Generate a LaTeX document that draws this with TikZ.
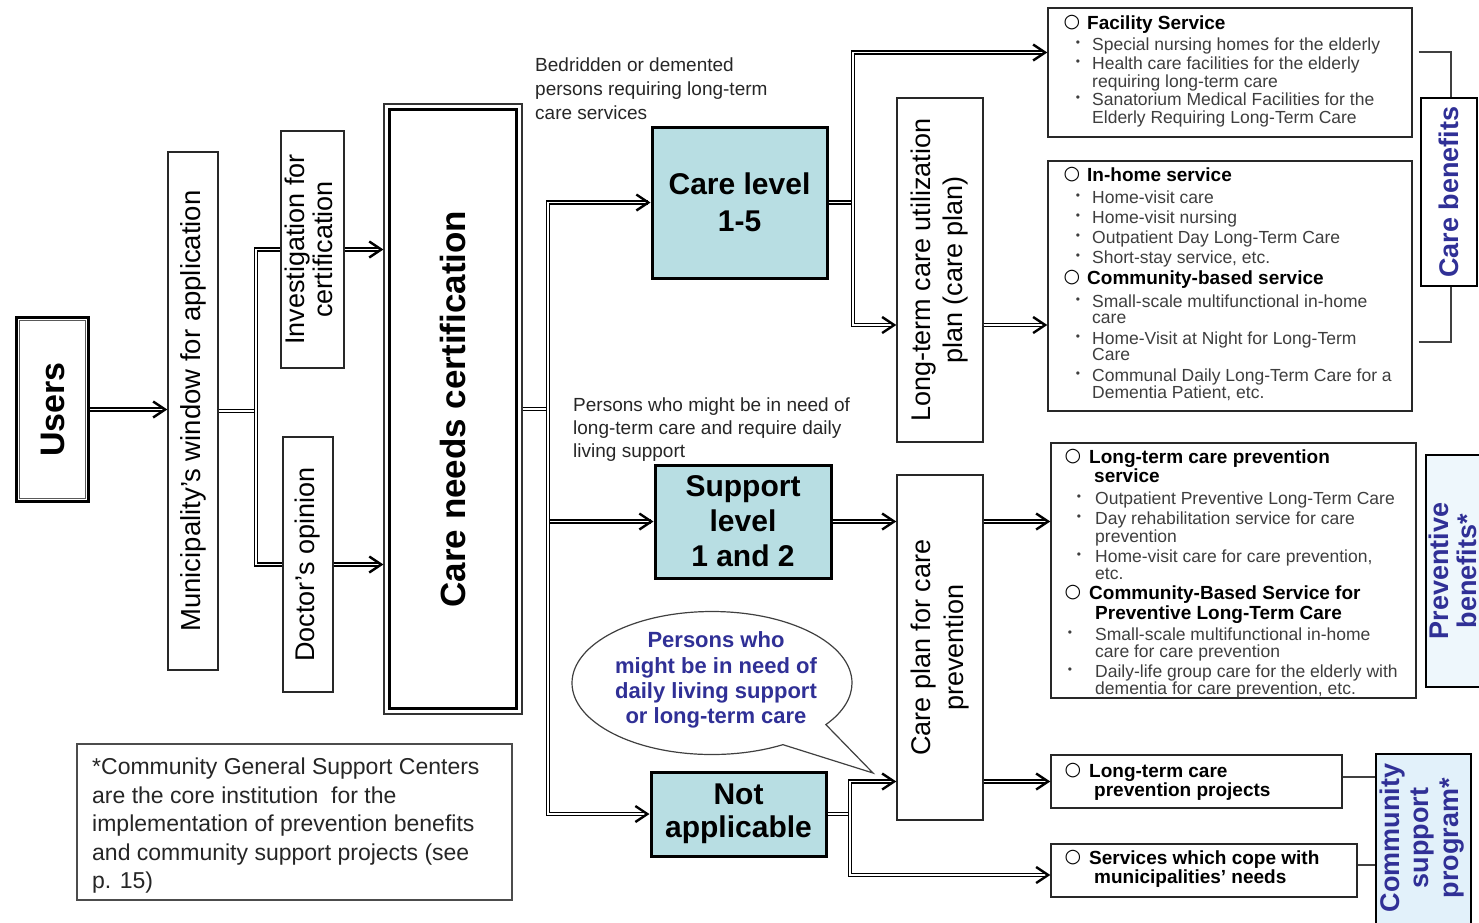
\documentclass[tikz,border=0pt]{standalone}
\usepackage{fontspec}
\usepackage{graphicx}
\setmainfont{Liberation Sans}
\newfontfamily\symf{DejaVu Sans}
\usetikzlibrary{arrows.meta,shapes.callouts}
\definecolor{tealf}{RGB}{184,222,227}
\definecolor{bluet}{RGB}{48,48,150}
\definecolor{itemc}{RGB}{62,62,62}
\definecolor{pbfill}{RGB}{238,247,252}
\definecolor{cspfill}{RGB}{226,241,250}
\definecolor{linec}{RGB}{40,40,40}
\newcommand\fs[2]{\fontsize{#1}{#2}\selectfont}
\newcommand\rtab[2]{\rotatebox{90}{#1\begin{tabular}{@{}c@{}}#2\end{tabular}}}
\newcounter{tln}
\newcommand\tl[5]{\stepcounter{tln}\node[anchor=base west, inner sep=0pt, #1] (t\arabic{tln}) at (#2,{#3+0.36*#4}) {\fs{#4}{#4}#5};}
\newcommand\hd[4]{\stepcounter{tln}\node[inner sep=0pt] (t\arabic{tln}) at (#1,#3) {\symf\fs{19}{19}○};\tl{font=\bfseries}{#2}{#3}{19}{#4}}
\newcommand\itm[4]{\stepcounter{tln}\node[inner sep=0pt, text=itemc] (t\arabic{tln}) at (#1,#3) {\fs{12}{12}•};\tl{text=itemc}{#2}{#3}{17.5}{#4}}
\newcommand\cnt[3]{\tl{text=itemc}{#1}{#2}{17.5}{#3}}
\newcommand\hcnt[3]{\tl{font=\bfseries}{#1}{#2}{19}{#3}}
\begin{document}
\begin{tikzpicture}[x=1pt,y=-1pt,
  box/.style={draw=linec, line width=1.4pt, inner sep=0pt, fill=white, align=center},
  lvl/.style={draw=black, line width=3pt, fill=tealf, inner sep=0pt, align=center},
  dl/.style={draw=black, double=white, line width=1.1pt, double distance=1.9pt},
  tipst/.style={-{Straight Barb[length=12pt, width=16pt, line width=2.4pt, color=black]}},
  da/.style={dl, shorten >=3pt, postaction={draw=white, line width=1.2pt, tipst, shorten >=0pt}},
  thinl/.style={draw=black!75, line width=1.3pt},
]
\useasboundingbox (0,0) rectangle (1479,922);

% ---------- left column ----------
\node[box, draw=black, line width=3.4pt, minimum width=72, minimum height=184] (users) at (52.5,409.5) {\rotatebox{90}{\fs{34}{34}\bfseries Users}};
\draw[line width=1.1pt, black!65] ([shift={(5pt,-5pt)}]users.north west) rectangle ([shift={(-5pt,5pt)}]users.south east);

\node[box, minimum width=50, minimum height=518] (muni) at (193,411) {\rotatebox{90}{\fs{27.5}{27.5}Municipality's window for application}};
\node[box, minimum width=63, minimum height=237] (inv) at (312.5,249.5) {\rtab{\fs{27}{27}}{Investigation for\\certification}};
\node[box, minimum width=50, minimum height=255] (doc) at (308,564.5) {\rotatebox{90}{\fs{27}{27}Doctor's opinion}};

\node[box, draw=black!80, line width=1.2pt, minimum width=138, minimum height=610] (cn) at (453,409) {\rotatebox{90}{\fs{35}{35}\bfseries Care needs certification}};
\draw[line width=3.2pt] ([shift={(6pt,-6pt)}]cn.north west) rectangle ([shift={(-6pt,6pt)}]cn.south east);

% ---------- levels ----------
\node[lvl, minimum width=175, minimum height=151, font=\fs{30}{37}\bfseries] (cl) at (739.5,202.5) {Care level\\1-5};
\node[lvl, minimum width=176, minimum height=113, font=\fs{30}{35}\bfseries] (sl) at (743,521.5) {Support\\level\\1 and 2};
\node[lvl, minimum width=175, minimum height=84, font=\fs{30}{33}\bfseries] (na) at (738.5,814) {Not\\applicable};

% ---------- plans ----------
\node[box, minimum width=86, minimum height=344] (ltc) at (940,270) {\rtab{\fs{27}{32}}{Long-term care utilization\\plan (care plan)}};
\node[box, minimum width=86, minimum height=345] (cpp) at (940,647.5) {\rtab{\fs{27}{33}}{Care plan for care\\prevention}};

% ---------- service boxes ----------
\node[box, minimum width=364, minimum height=129] (fac) at (1230,72.5) {};
\node[box, minimum width=364, minimum height=250] (inh) at (1230,286) {};
\node[box, minimum width=365, minimum height=255] (ltcp) at (1233.5,570.5) {};
\node[box, minimum width=291, minimum height=53] (proj) at (1196.5,781.5) {};
\node[box, minimum width=306, minimum height=53] (svc) at (1204,870.5) {};

% ---------- benefit labels ----------
\draw[thinl] ([xshift=6pt]fac.east |- 0,52) -| (1451,192);
\draw[thinl] ([xshift=6pt]inh.east |- 0,342) -| (1451,192);
\node[box, draw=black, line width=2.6pt, minimum width=56, minimum height=188] (cb) at (1449,192) {\rotatebox{90}{\fs{27}{27}\bfseries\color{bluet}Care benefits}};
\node[box, fill=pbfill, draw=black, line width=1.6pt, minimum width=80, minimum height=232] (pb) at (1466,571) {};
\node[inner sep=0pt] (pbt) at (1457,571) {\rtab{\fs{27}{27}\bfseries\color{bluet}}{Preventive\\benefits*}};
\node[box, fill=cspfill, draw=black, line width=1.6pt, minimum width=95, minimum height=186] (csp) at (1423.5,847) {};
\node[inner sep=0pt] (cspt) at (1423,838) {\rtab{\fs{27}{29.5}\bfseries\color{bluet}}{Community\\support\\program*}};
\draw[thinl] (proj.east |- 0,777) -- (csp.west |- 0,777);
\draw[thinl] (svc.east |- 0,865) -- (csp.west |- 0,865);

% ---------- connectors ----------
\coordinate (j1) at (256,411);
\coordinate (j2) at (548,409);
\coordinate (j3) at (853,202.5);
\coordinate (j4) at (850,814);

\draw[da] (users.east) -- (users.east -| muni.west);
\draw[dl] (muni.east) -- (j1);
\draw[dl] (j1) |- (inv.west);
\draw[dl] (j1) |- (doc.west);
\draw[da] (inv.east) -- (inv.east -| cn.west);
\draw[da] (doc.east) -- (doc.east -| cn.west);

\draw[dl] (cn.east) -- (j2);
\draw[da] (j2) |- (cl.west);
\draw[da] (j2) |- (sl.west);
\draw[da] (j2) |- (na.west);

\draw[dl] (cl.east) -- (j3);
\draw[da] (j3) |- ([yshift=20pt]fac.west);
\draw[da] (j3) |- ([yshift=-55pt]ltc.west);
\draw[da] ([yshift=-55pt]ltc.east) -- ([yshift=-55pt]ltc.east -| inh.west);

\draw[da] (sl.east) -- (sl.east -| cpp.west);
\draw[da] (cpp.east |- sl.east) -- (sl.east -| ltcp.west);

% speech bubble
\node[ellipse callout, draw=black!75, line width=1.2pt, fill=white, minimum width=280, minimum height=143, inner sep=0pt, callout absolute pointer={(873,773)}, callout pointer arc=24] (bub) at (712,683) {};
\node[align=center, inner sep=0pt, font=\fs{22}{25.3}\bfseries, text=bluet] (bubt) at (716,680) {Persons who\\might be in need of\\daily living support\\or long-term care};

\draw[dl] (na.east) -- (j4);
\draw[da] (j4) |- (cpp.west |- proj.west);
\draw[da] (j4) |- ([yshift=-4.5pt]svc.west);
\draw[da] (cpp.east |- proj.west) -- (proj.west);

% ---------- free labels ----------
\tl{text=black!85}{535}{65}{19}{Bedridden or demented}
\tl{text=black!85}{535}{89}{19}{persons requiring long-term}
\tl{text=black!85}{535}{113}{19}{care services}
\tl{text=black!85}{573}{405}{19}{Persons who might be in need of}
\tl{text=black!85}{573}{428}{19}{long-term care and require daily}
\tl{text=black!85}{573}{451}{19}{living support}

% ---------- footnote ----------
\node[box, draw=black!70, line width=1.3pt, minimum width=435, minimum height=156] (foot) at (294.5,822) {};
\tl{text=black!85}{92}{766}{23}{*Community General Support Centers}
\tl{text=black!85}{92}{795}{23}{are the core institution \ for the}
\tl{text=black!85}{92}{823}{23}{implementation of prevention benefits}
\tl{text=black!85}{92}{852}{23}{and community support projects (see}
\tl{text=black!85}{92}{880}{23}{p. 15)}

% ---------- facility service ----------
\hd{1072}{1087}{23}{Facility Service}
\itm{1078}{1092}{44}{Special nursing homes for the elderly}
\itm{1078}{1092}{63}{Health care facilities for the elderly}
\cnt{1092}{81}{requiring long-term care}
\itm{1078}{1092}{99}{Sanatorium Medical Facilities for the}
\cnt{1092}{117}{Elderly Requiring Long-Term Care}

% ---------- in-home ----------
\hd{1072}{1087}{175}{In-home service}
\itm{1078}{1092}{197}{Home-visit care}
\itm{1078}{1092}{217}{Home-visit nursing}
\itm{1078}{1092}{237}{Outpatient Day Long-Term Care}
\itm{1078}{1092}{257}{Short-stay service, etc.}
\hd{1072}{1087}{278}{Community-based service}
\itm{1078}{1092}{301}{Small-scale multifunctional in-home}
\cnt{1092}{317}{care}
\itm{1078}{1092}{338}{Home-Visit at Night for Long-Term}
\cnt{1092}{354}{Care}
\itm{1078}{1092}{375}{Communal Daily Long-Term Care for a}
\cnt{1092}{392}{Dementia Patient, etc.}

% ---------- prevention ----------
\hd{1073}{1089}{457}{Long-term care prevention}
\hcnt{1094}{476}{service}
\itm{1079}{1095}{498}{Outpatient Preventive Long-Term Care}
\itm{1079}{1095}{518}{Day rehabilitation service for care}
\cnt{1095}{536}{prevention}
\itm{1079}{1095}{556}{Home-visit care for care prevention,}
\cnt{1095}{573}{etc.}
\hd{1073}{1089}{593}{Community-Based Service for}
\hcnt{1095}{613}{Preventive Long-Term Care}
\itm{1070}{1095}{634}{Small-scale multifunctional in-home}
\cnt{1095}{651}{care for care prevention}
\itm{1070}{1095}{671}{Daily-life group care for the elderly with}
\cnt{1095}{688}{dementia for care prevention, etc.}

% ---------- projects ----------
\hd{1073}{1089}{771}{Long-term care}
\hcnt{1094}{790}{prevention projects}
\hd{1073}{1089}{858}{Services which cope with}
\hcnt{1094}{877}{municipalities' needs}
\end{tikzpicture}
\end{document}
